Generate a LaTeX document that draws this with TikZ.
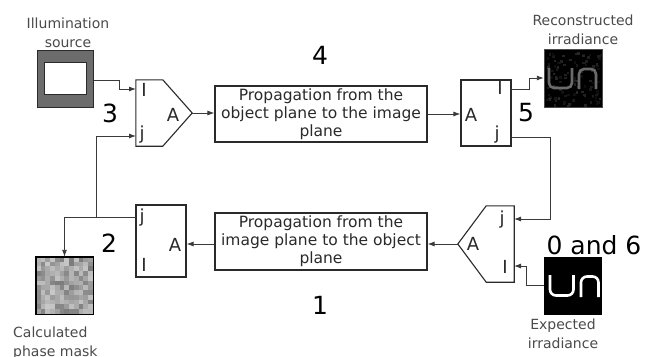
\documentclass[tikz,border=0pt]{standalone}
\usepackage{fontspec}
\setmainfont{DejaVu Sans}
\usetikzlibrary{arrows.meta,calc}

\definecolor{ink}{HTML}{2A2A2A}
\definecolor{wirec}{HTML}{3A3A3A}
\definecolor{framec}{HTML}{6C6C6C}

\tikzset{
  blk/.style={draw=ink, line width=1.1pt, fill=white, inner sep=0pt},
  propbox/.style={blk, minimum width=212pt, align=center,
    font=\fontsize{15.5}{18}\selectfont, text=ink},
  portlbl/.style={font=\fontsize{18}{18}\selectfont, text=ink, inner sep=0pt},
  stagelbl/.style={font=\fontsize{25}{25}\selectfont, text=black, inner sep=0pt},
  caption/.style={font=\fontsize{14}{19}\selectfont, text=ink!85, align=center, inner sep=0pt},
  pic/.style={draw=none, minimum width=#1, minimum height=#1, inner sep=0pt},
  wire/.style={draw=wirec, line width=0.9pt, -{Latex[length=7pt,width=5pt]}},
  shapeline/.style={draw=ink, line width=1.1pt, fill=white},
}

\begin{document}
\begin{tikzpicture}[x=1pt,y=-1pt]
\useasboundingbox (0,0) rectangle (655,356);

% ---------- functional blocks ----------
% upper-left combiner (3)
\node[draw=none, minimum width=56pt, minimum height=66pt, inner sep=0pt] (c3) at (164,113) {};
\draw[shapeline] (c3.north west) -- ($(c3.north west)+(27,0)$) -- (c3.east)
  -- ($(c3.south west)+(27,0)$) -- (c3.south west) -- cycle;
\node[portlbl] (c3l) at (144,90) {I};
\node[portlbl] (c3jl) at (142,135) {j};
\node[portlbl] (c3a) at (173,115) {A};
\coordinate (c3i) at (136,89);
\coordinate (c3j) at (136,136);

% forward propagation (4)
\node[propbox, minimum height=56pt] (p4) at (321,114)
  {Propagation from the\\object plane to the image\\plane};

% upper-right splitter (5)
\node[blk, minimum width=50pt, minimum height=66pt] (b5) at (486,113) {};
\node[portlbl] (b5a) at (471,115) {A};
\node[portlbl] (b5l) at (500,88) {I};
\node[portlbl] (b5jl) at (497,135) {j};
\coordinate (b5i) at (511,89);
\coordinate (b5j) at (511,137);

% lower-right combiner (0 and 6)
\node[draw=none, minimum width=56pt, minimum height=76pt, inner sep=0pt] (c0) at (486,244) {};
\draw[shapeline] (c0.north east) -- ($(c0.north east)+(-28,0)$) -- (c0.west)
  -- ($(c0.south east)+(-28,0)$) -- (c0.south east) -- cycle;
\node[portlbl] (c0jl) at (502,220) {j};
\node[portlbl] (c0a) at (473,244) {A};
\node[portlbl] (c0l) at (505,267) {I};
\coordinate (c0j) at (514,219);
\coordinate (c0i) at (514,266);

% backward propagation (1)
\node[propbox, minimum height=57pt] (p1) at (321,241.5)
  {Propagation from the\\image plane to the object\\plane};

% lower-left splitter (2)
\node[blk, minimum width=50pt, minimum height=72pt] (b2) at (161,241) {};
\node[portlbl] (b2jl) at (142,218) {j};
\node[portlbl] (b2a) at (175,245) {A};
\node[portlbl] (b2l) at (144,265) {I};
\coordinate (b2j) at (136,217);

% ---------- pictures ----------
% illumination source
\node[draw=ink, line width=1pt, fill=framec, minimum width=56pt, minimum height=57pt, inner sep=0pt] (ill) at (65,78.5) {};
\node[draw=ink, line width=0.9pt, fill=white, minimum width=42pt, minimum height=32pt, inner sep=0pt] (illwin) at (65,78) {};

% reconstructed irradiance
\node[pic=58pt, fill=black] (rec) at (573,78) {};
\begin{scope}
  \clip (rec.south west) rectangle (rec.north east);
  \pgfmathsetseed{17}
  \foreach \k in {1,...,110}{
    \pgfmathsetmacro\px{rnd*54}
    \pgfmathsetmacro\py{rnd*54}
    \pgfmathsetmacro\g{int(5+11*rnd)}
    \fill[white!\g!black] ($(rec.north west)+(2+\px,2+\py)$) rectangle ++(2.5,2.5);
  }
  \draw[white!42!black, line width=2.6pt, rounded corners=5pt]
    (549,68) -- (549,88) -- (572,88) -- (572,68);
  \draw[white!42!black, line width=2.6pt, rounded corners=5pt]
    (579,89) -- (579,69) -- (596,69) -- (596,89);
\end{scope}
\draw[white!30!black, line width=0.6pt] (rec.south west) rectangle (rec.north east);

% expected irradiance
\node[pic=58pt, fill=black] (exp) at (573,285.5) {};
\draw[white, line width=2.6pt, rounded corners=6pt]
  (550,275) -- (550,295.5) -- (573.5,295.5) -- (573.5,275);
\draw[white, line width=2.6pt, rounded corners=6pt]
  (581,297) -- (581,276.5) -- (598.5,276.5) -- (598.5,297);

% calculated phase mask
\node[pic=57pt] (mask) at (64.5,285.5) {};
\begin{scope}
  \clip (mask.south west) rectangle (mask.north east);
  \pgfmathsetseed{42}
  \foreach \i in {0,...,11}{
    \foreach \j in {0,...,11}{
      \pgfmathsetmacro\g{int(22+30*rnd)}
      \fill[black!\g] ($(mask.north west)+(\i*4.75,\j*4.75)$) rectangle ++(4.8,4.8);
    }
  }
\end{scope}
\draw[black, line width=1.4pt] (mask.south west) rectangle (mask.north east);

% ---------- captions and stage numbers ----------
\node[caption] (illcap) at (68,32.5) {Illumination\\source};
\node[caption] (reccap) at (583,29.5) {Reconstructed\\irradiance};
\node[caption] (expcap) at (563,334) {Expected\\irradiance};
\node[caption, align=left, anchor=west] (maskcap) at (13,343) {Calculated\\phase mask};

\node[stagelbl] (s4) at (320,55) {4};
\node[stagelbl] (s1) at (320,305) {1};
\node[stagelbl] (s3) at (110,113) {3};
\node[stagelbl] (s2) at (109,243) {2};
\node[stagelbl] (s5) at (526,113) {5};
\node[stagelbl] (s06) at (594,245) {0 and 6};

% ---------- connectors ----------
\draw[wire] ($(ill.east)+(0,1.5)$) -- ++(26,0) |- (c3i);
\draw[wire] (c3.east) -- (c3.east -| p4.west);
\draw[wire] (p4.east) -- (p4.east -| b5.west);
\draw[wire] (b5i) -- ++(18,0) |- (rec.west);
\draw[wire] (b5j) -- ++(39,0) |- (c0j);
\draw[wire] (exp.west) -- ++(-17,0) |- (c0i);
\draw[wire] (c0.west) -- (c0.west -| p1.east);
\draw[wire] (p1.west |- c0.west) -- (b2.east |- c0.west);
\draw[wire] (b2j) -| (mask.north);
\draw[wire] (b2j) -- ++(-40,0) |- (c3j);

\end{tikzpicture}
\end{document}
